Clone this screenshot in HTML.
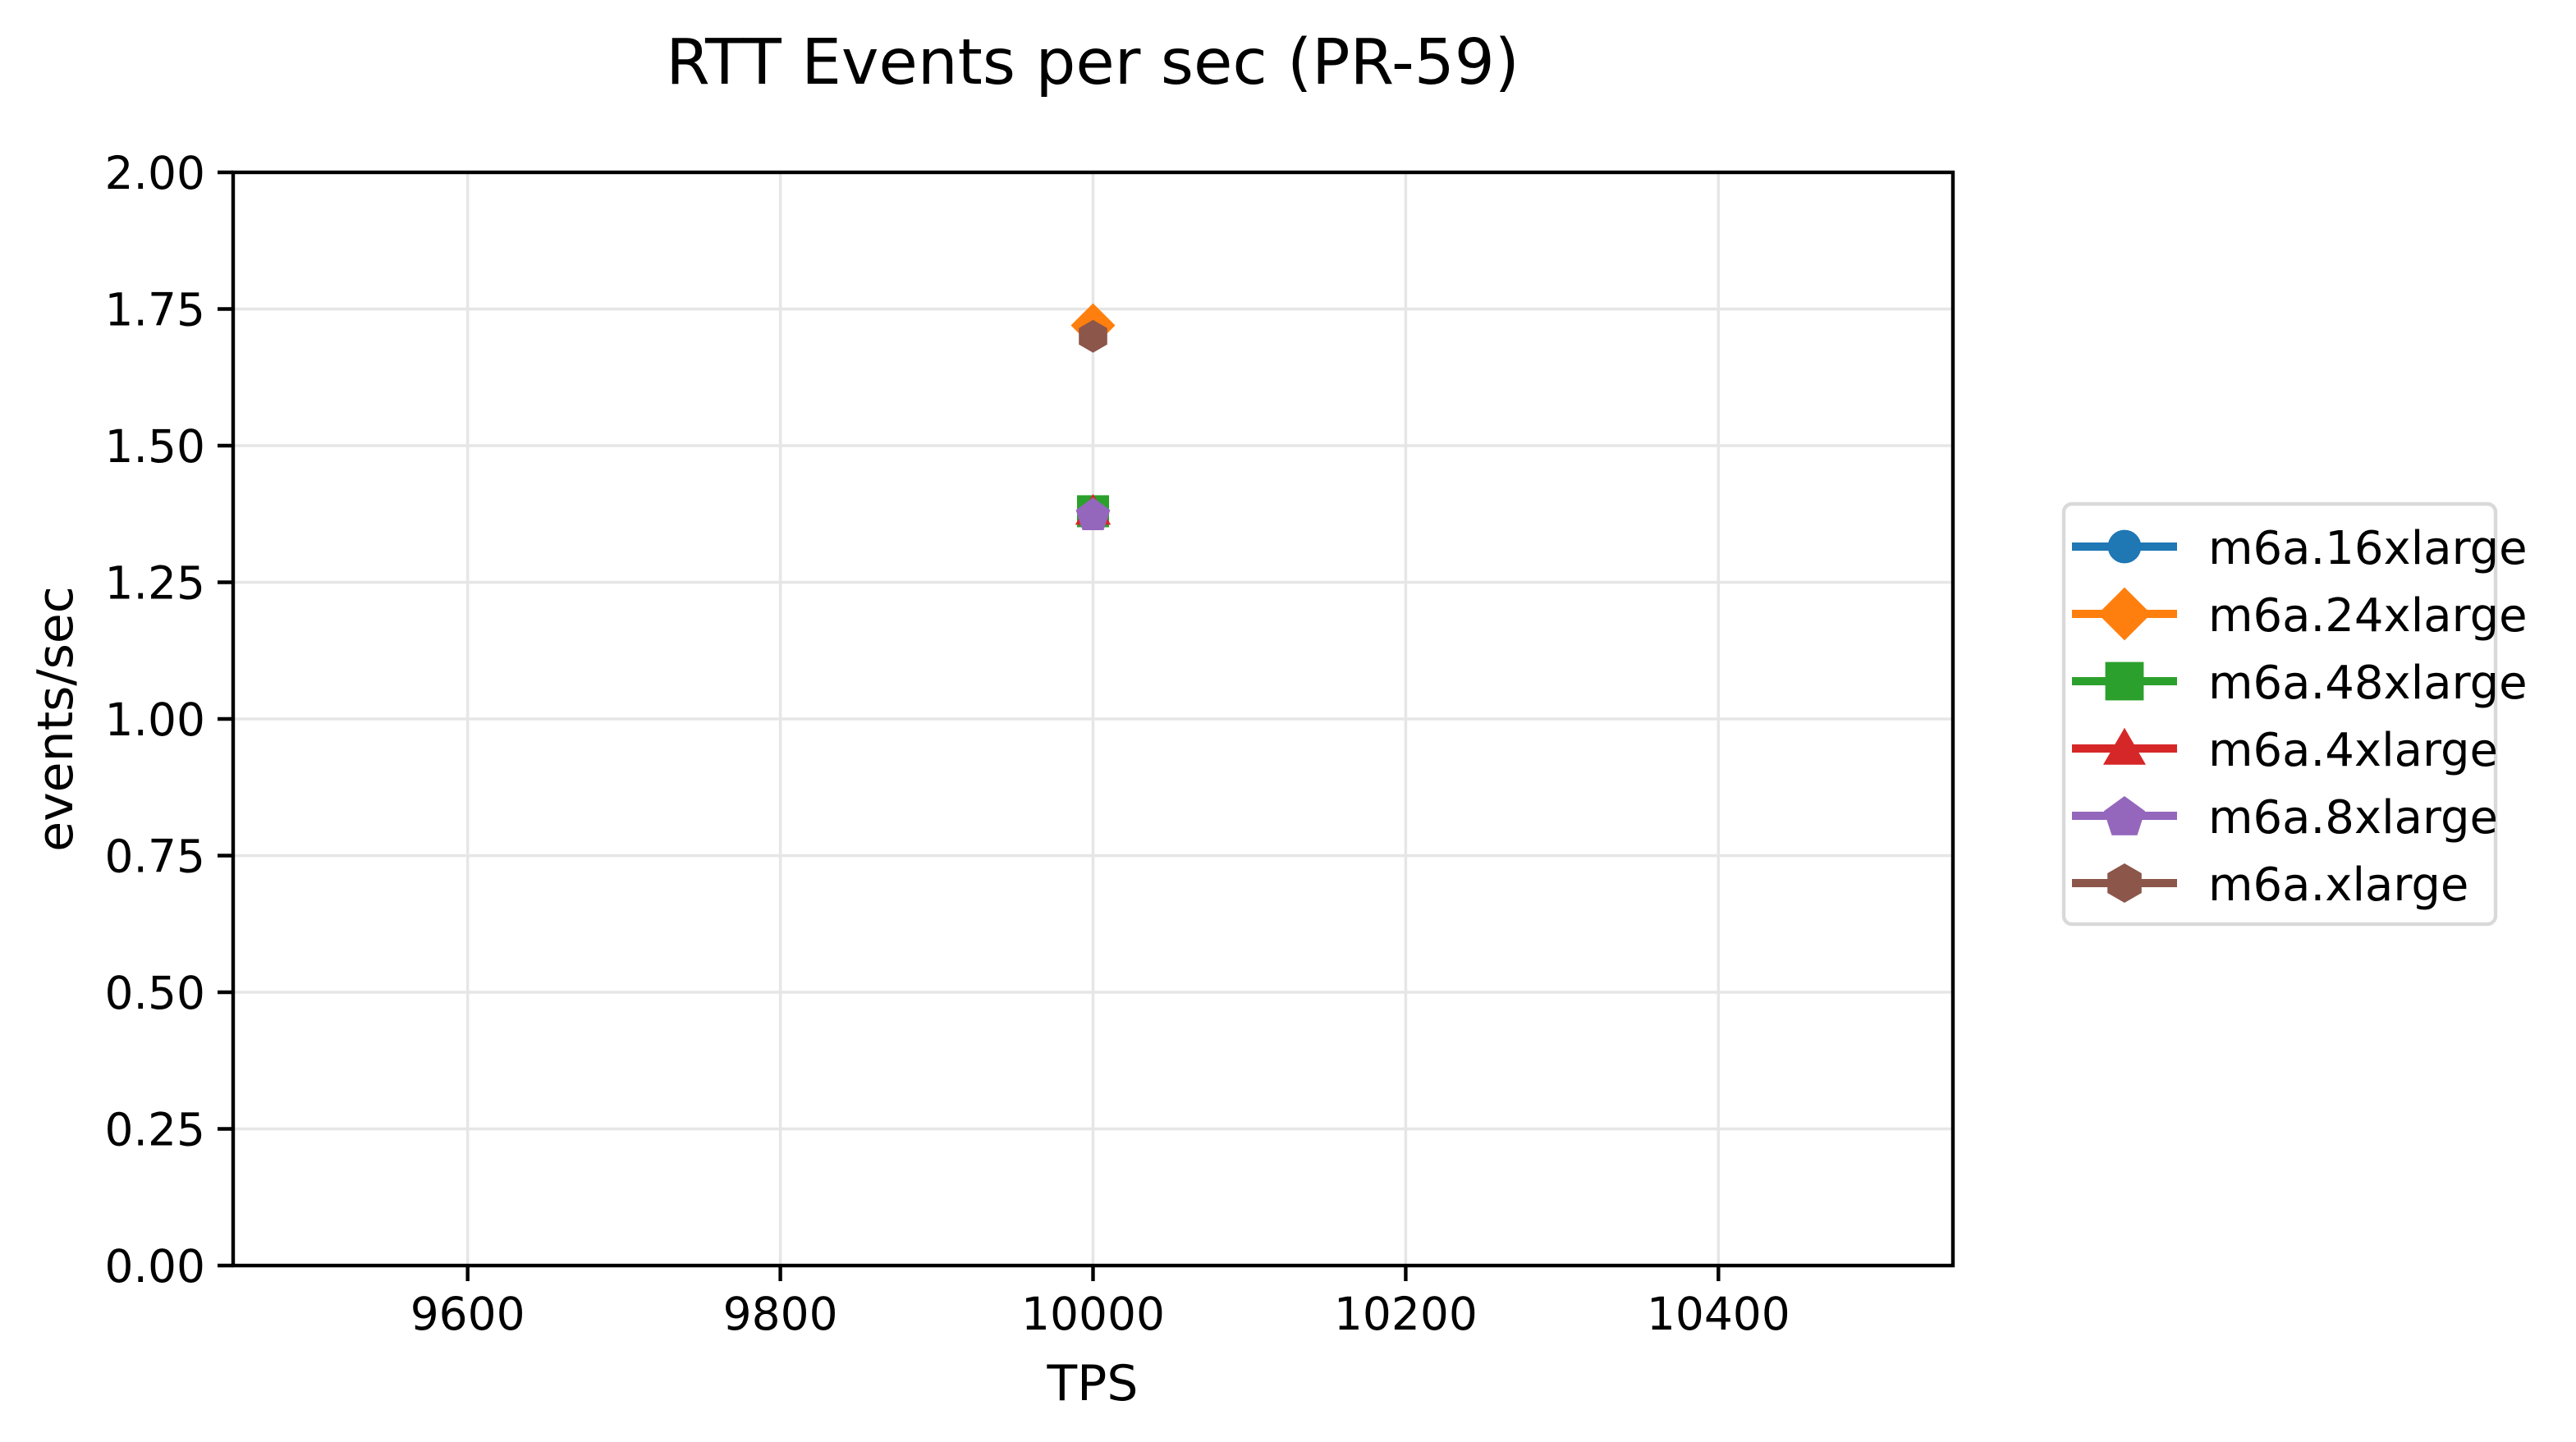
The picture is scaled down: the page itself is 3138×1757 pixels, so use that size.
<!DOCTYPE html>
<html><head><meta charset="utf-8"><style>
html,body{margin:0;padding:0;background:#fff}
svg{display:block;font-family:"DejaVu Sans","Liberation Sans",sans-serif}
</style></head><body>
<svg id="chart" width="3138" height="1757" viewBox="0 0 3138 1757" xmlns="http://www.w3.org/2000/svg">
<rect width="3138" height="1757" fill="#fff"/>
<text x="1331" y="102" font-size="77" text-anchor="middle">RTT Events per sec (PR-59)</text>
<g id="grid"></g>
<g id="marks"></g>
<g id="axes"></g>
<text x="1331" y="1706" font-size="60" text-anchor="middle">TPS</text>
<text transform="translate(88,876) rotate(-90)" font-size="60" text-anchor="middle">events/sec</text>
<g id="legend"></g>
</svg>
<script>
const seriesNames = ["m6a.16xlarge","m6a.24xlarge","m6a.48xlarge","m6a.4xlarge","m6a.8xlarge","m6a.xlarge"];
const seriesColors = ["#1f77b4","#ff7f0e","#2ca02c","#d62728","#9467bd","#8c564b"];
const seriesMarkers = ["circle","diamond","square","triangle","pentagon","hexagon"];
const tpsValues = [10000];
const values16x = [1.38];
const values24x = [1.72];
const values48x = [1.38];
const values4x = [1.38];
const values8x = [1.375];
const valuesX = [1.70];
const xTicks = [9600,9800,10000,10200,10400];
const yTicks = [0,0.25,0.5,0.75,1.0,1.25,1.5,1.75,2.0];
const yTickLabels = ["0.00","0.25","0.50","0.75","1.00","1.25","1.50","1.75","2.00"];

const L=284,R=2379,T=210,B=1542;
const xMin=9450,xMax=10550,yMin=0,yMax=2;
const sx=v=>L+(v-xMin)/(xMax-xMin)*(R-L);
const sy=v=>B-(v-yMin)/(yMax-yMin)*(B-T);
const NS="http://www.w3.org/2000/svg";
function mk(tag,attrs,parent){const e=document.createElementNS(NS,tag);for(const k in attrs)e.setAttribute(k,attrs[k]);parent.appendChild(e);return e;}
const grid=document.getElementById('grid'),axes=document.getElementById('axes'),marks=document.getElementById('marks'),legend=document.getElementById('legend');

xTicks.forEach(t=>{const x=sx(t);
 const g=mk('line',{x1:x,x2:x,y1:T,y2:B,stroke:'#e6e6e6','stroke-width':3.5},grid);
 
 const tk=mk('line',{x1:x,x2:x,y1:B,y2:B+19,stroke:'#000','stroke-width':4.4},axes);
 
 const lb=mk('text',{x:x,y:B+78,'font-size':55,'text-anchor':'middle'},axes);lb.textContent=t;
 
});
yTicks.forEach((t,i)=>{const y=sy(t);
 const g=mk('line',{x1:L,x2:R,y1:y,y2:y,stroke:'#e6e6e6','stroke-width':3.5},grid);
 
 const tk=mk('line',{x1:L-19,x2:L,y1:y,y2:y,stroke:'#000','stroke-width':4.4},axes);
 
 const lb=mk('text',{x:L-34,y:y+20,'font-size':55,'text-anchor':'end'},axes);lb.textContent=yTickLabels[i];
 
});
const frame=mk('rect',{x:L,y:T,width:R-L,height:B-T,fill:'none',stroke:'#000','stroke-width':4.4},axes);


function poly(n,r,cx,cy,rot){let p=[];for(let i=0;i<n;i++){const a=rot+i*2*Math.PI/n;p.push((cx+r*Math.sin(a)).toFixed(1)+','+(cy-r*Math.cos(a)).toFixed(1));}return p.join(' ');}
function marker(type,cx,cy,color,parent,s){s=s||1;
 if(type==='circle')return mk('circle',{cx:cx,cy:cy,r:17*s,fill:color},parent);
 if(type==='diamond')return mk('polygon',{points:poly(4,27*s,cx,cy,0),fill:color},parent);
 if(type==='square')return mk('rect',{x:cx-19.5*s,y:cy-19.5*s,width:39*s,height:39*s,fill:color},parent);
 if(type==='triangle')return mk('polygon',{points:poly(3,25*s,cx,cy+4*s,0),fill:color},parent);
 if(type==='pentagon')return mk('polygon',{points:poly(5,22*s,cx,cy+2*s,0),fill:color},parent);
 return mk('polygon',{points:poly(6,20*s,cx,cy,0),fill:color},parent);
}
const allValues=[values16x,values24x,values48x,values4x,values8x,valuesX];
allValues.forEach((vals,si)=>{
 const pts=vals.map((v,i)=>[sx(tpsValues[i]),sy(v)]);
 if(pts.length>1){const pl=mk('polyline',{points:pts.map(p=>p.join(',')).join(' '),fill:'none',stroke:seriesColors[si],'stroke-width':10},marks);
  }
 pts.forEach(p=>{const m=marker(seriesMarkers[si],p[0],p[1],seriesColors[si],marks);
  });
});

const box=mk('rect',{x:2514,y:614,width:526,height:512,rx:10,fill:'#fff',stroke:'#d9d9d9','stroke-width':4.4},legend);

seriesNames.forEach((n,i)=>{const y=666+i*82;
 const g=mk('g',{},legend);
 
 mk('line',{x1:2524,x2:2652,y1:y,y2:y,stroke:seriesColors[i],'stroke-width':10},g);
 marker(seriesMarkers[i],2588,y,seriesColors[i],g,1.2);
 const t=mk('text',{x:2690,y:y+21,'font-size':56},g);t.textContent=n;
});
</script>
</body></html>
